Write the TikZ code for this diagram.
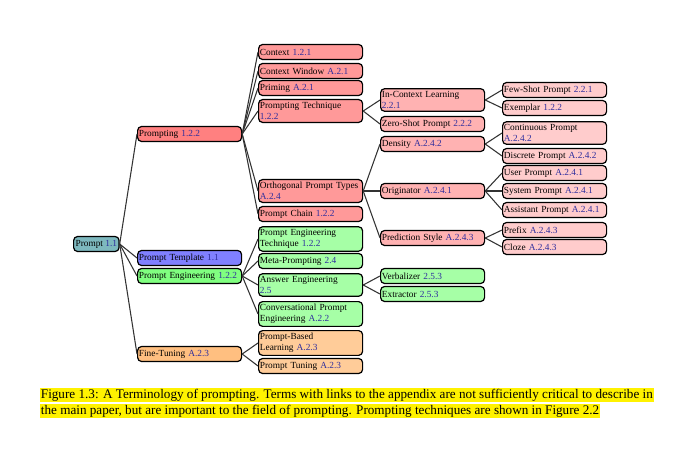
\documentclass[tikz,border=0pt]{standalone}
\usepackage{fontspec}
\setmainfont{Liberation Serif}
\usepackage{xcolor}

\definecolor{linkc}{rgb}{0.18,0.18,0.62}
\definecolor{edgec}{rgb}{0.2,0.2,0.2}
\newcommand{\refn}[1]{\textcolor{linkc}{#1}}

\begin{document}
\begin{tikzpicture}[x=0.75pt,y=-0.75pt]%
  \tikzstyle{termn}=[rectangle,rounded corners=3pt,draw=black,line width=0.9pt,
    anchor=west,align=left,inner xsep=1pt,inner ysep=2pt,minimum height=11.25pt,
    font=\fontsize{7}{8.2}\selectfont]
  \tikzstyle{widen}=[termn,text width=76pt]
  \tikzstyle{rootn}=[termn,inner xsep=1.5pt,fill={rgb,255:red,125;green,184;blue,190}]
  \tikzstyle{red1}=[widen,fill=red!50]
  \tikzstyle{red2}=[widen,fill=red!40]
  \tikzstyle{red3}=[widen,fill=red!30]
  \tikzstyle{red4}=[widen,fill=red!20]
  \tikzstyle{blue1}=[widen,fill=blue!50]
  \tikzstyle{green1}=[widen,fill=green!50]
  \tikzstyle{green2}=[widen,fill=green!35]
  \tikzstyle{orange1}=[widen,fill=orange!50]
  \tikzstyle{orange2}=[widen,fill=orange!40]
  \tikzstyle{edgen}=[draw=edgec,line width=0.8pt]
  \tikzstyle{capn}=[anchor=west,fill=yellow,inner xsep=0.5pt,inner ysep=0.5pt,
    text height=7.2pt,text depth=2.4pt,font=\fontsize{9.87}{12}\selectfont]
  \useasboundingbox (0,0) rectangle (680,449);

  % root and first level
  \node (p) [rootn] at (73,244) {Prompt \refn{1.1}};
  \node (pg) [red1] at (137,134) {Prompting \refn{1.2.2}};
  \node (pt) [blue1] at (137,258) {Prompt Template \refn{1.1}};
  \node (pe) [green1] at (137,276) {Prompt Engineering \refn{1.2.2}};
  \node (ft) [orange1] at (137,354) {Fine-Tuning \refn{A.2.3}};

  % second level
  \node (ctx) [red2] at (258,52) {Context \refn{1.2.1}};
  \node (cw) [red2] at (258,71) {Context Window \refn{A.2.1}};
  \node (pri) [red2] at (258,88) {Priming \refn{A.2.1}};
  \node (ptq) [red2] at (258,111) {Prompting Technique\\\refn{1.2.2}};
  \node (opt) [red2] at (258,191) {Orthogonal Prompt Types\\\refn{A.2.4}};
  \node (pc) [red2] at (258,214) {Prompt Chain \refn{1.2.2}};
  \node (pet) [green2] at (258,239) {Prompt Engineering\\Technique \refn{1.2.2}};
  \node (mp) [green2] at (258,261) {Meta-Prompting \refn{2.4}};
  \node (ae) [green2] at (258,285) {Answer Engineering\\\refn{2.5}};
  \node (cpe) [green2] at (258,314) {Conversational Prompt\\Engineering \refn{A.2.2}};
  \node (pbl) [orange2] at (258,343) {Prompt-Based\\Learning \refn{A.2.3}};
  \node (ptu) [orange2] at (258,366) {Prompt Tuning \refn{A.2.3}};

  % third level
  \node (icl) [red3] at (380,100) {In-Context Learning\\\refn{2.2.1}};
  \node (zsp) [red3] at (380,124) {Zero-Shot Prompt \refn{2.2.2}};
  \node (den) [red3] at (380,144) {Density \refn{A.2.4.2}};
  \node (ori) [red3] at (380,191) {Originator \refn{A.2.4.1}};
  \node (ps) [red3] at (380,238) {Prediction Style \refn{A.2.4.3}};
  \node (verb) [green2] at (380,276) {Verbalizer \refn{2.5.3}};
  \node (ext) [green2] at (380,294) {Extractor \refn{2.5.3}};

  % fourth level
  \node (fsp) [red4] at (502,90) {Few-Shot Prompt \refn{2.2.1}};
  \node (exm) [red4] at (502,108) {Exemplar \refn{1.2.2}};
  \node (cont) [red4] at (502,133) {Continuous Prompt\\\refn{A.2.4.2}};
  \node (disc) [red4] at (502,156) {Discrete Prompt \refn{A.2.4.2}};
  \node (usr) [red4] at (502,173) {User Prompt \refn{A.2.4.1}};
  \node (sys) [red4] at (502,191) {System Prompt \refn{A.2.4.1}};
  \node (asst) [red4] at (502,210) {Assistant Prompt \refn{A.2.4.1}};
  \node (pre) [red4] at (502,230) {Prefix \refn{A.2.4.3}};
  \node (clz) [red4] at (502,247) {Cloze \refn{A.2.4.3}};

  % edges
  \foreach \a/\b in {p/pg,p/pt,p/pe,p/ft,
      pg/ctx,pg/cw,pg/pri,pg/ptq,pg/opt,pg/pc,
      pe/pet,pe/mp,pe/ae,pe/cpe,ft/pbl,ft/ptu,
      ptq/icl,ptq/zsp,opt/den,opt/ori,opt/ps,ae/verb,ae/ext,
      icl/fsp,icl/exm,den/cont,den/disc,ori/usr,ori/sys,ori/asst,ps/pre,ps/clz}
    \path[edgen] (\a.east) -- (\b.west);

  % caption
  \node (cap1) [capn] at (40,395) {Figure 1.3: A Terminology of prompting. Terms with links to the appendix are not sufficiently critical to describe in};
  \node (cap2) [capn] at (40,411) {the main paper, but are important to the field of prompting. Prompting techniques are shown in Figure 2.2};
\end{tikzpicture}
\end{document}
